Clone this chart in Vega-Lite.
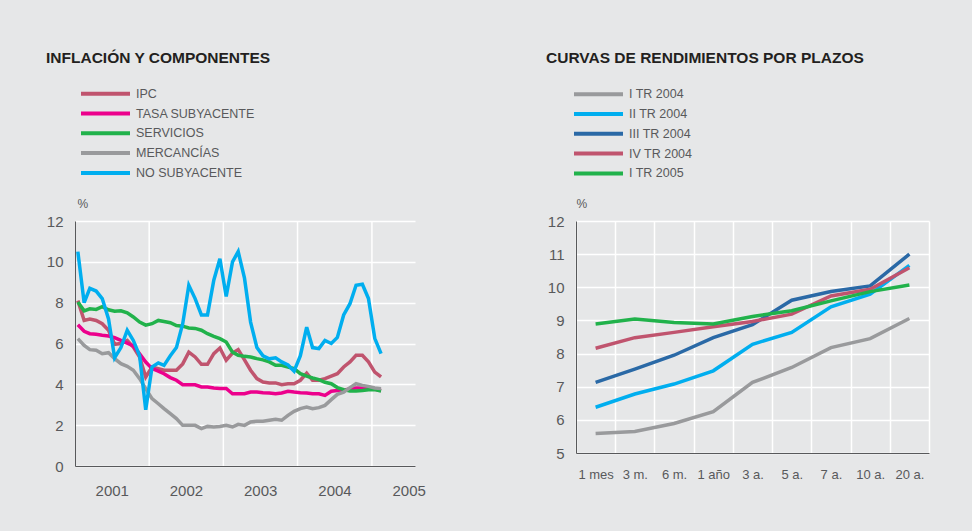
{
  "$schema": "https://vega.github.io/schema/vega-lite/v6.json",
  "background": "#E6E7E8",
  "padding": {"left": 46, "top": 50, "right": 46, "bottom": 42},
  "spacing": 120,
  "config": {
    "view": {"stroke": null},
    "font": "Liberation Sans",
    "axis": {"labelFont": "Liberation Sans", "labelColor": "#58595B", "domainColor": "#58595B", "domainWidth": 1, "ticks": false, "gridColor": "white", "gridWidth": 1.5, "gridOpacity": 1}
  },
  "datasets": {
    "infl": [
      {"fecha": "2001-01-15", "IPC": 8.1, "TASA SUBYACENTE": 6.92, "SERVICIOS": 8.03, "MERCANCÍAS": 6.24, "NO SUBYACENTE": 10.5},
      {"fecha": "2001-02-15", "IPC": 7.13, "TASA SUBYACENTE": 6.6, "SERVICIOS": 7.6, "MERCANCÍAS": 5.91, "NO SUBYACENTE": 8.0},
      {"fecha": "2001-03-15", "IPC": 7.2, "TASA SUBYACENTE": 6.48, "SERVICIOS": 7.7, "MERCANCÍAS": 5.7, "NO SUBYACENTE": 8.7},
      {"fecha": "2001-04-15", "IPC": 7.13, "TASA SUBYACENTE": 6.45, "SERVICIOS": 7.67, "MERCANCÍAS": 5.67, "NO SUBYACENTE": 8.57},
      {"fecha": "2001-05-15", "IPC": 6.97, "TASA SUBYACENTE": 6.4, "SERVICIOS": 7.8, "MERCANCÍAS": 5.5, "NO SUBYACENTE": 8.2},
      {"fecha": "2001-06-15", "IPC": 6.65, "TASA SUBYACENTE": 6.37, "SERVICIOS": 7.65, "MERCANCÍAS": 5.55, "NO SUBYACENTE": 7.2},
      {"fecha": "2001-07-15", "IPC": 5.96, "TASA SUBYACENTE": 6.29, "SERVICIOS": 7.58, "MERCANCÍAS": 5.26, "NO SUBYACENTE": 5.3},
      {"fecha": "2001-08-15", "IPC": 6.0, "TASA SUBYACENTE": 6.15, "SERVICIOS": 7.6, "MERCANCÍAS": 5.01, "NO SUBYACENTE": 5.8},
      {"fecha": "2001-09-15", "IPC": 6.15, "TASA SUBYACENTE": 6.02, "SERVICIOS": 7.5, "MERCANCÍAS": 4.88, "NO SUBYACENTE": 6.65},
      {"fecha": "2001-10-15", "IPC": 5.83, "TASA SUBYACENTE": 5.88, "SERVICIOS": 7.3, "MERCANCÍAS": 4.69, "NO SUBYACENTE": 6.15},
      {"fecha": "2001-11-15", "IPC": 5.34, "TASA SUBYACENTE": 5.5, "SERVICIOS": 7.05, "MERCANCÍAS": 4.28, "NO SUBYACENTE": 5.4},
      {"fecha": "2001-12-15", "IPC": 4.36, "TASA SUBYACENTE": 5.09, "SERVICIOS": 6.9, "MERCANCÍAS": 3.79, "NO SUBYACENTE": 2.75},
      {"fecha": "2002-01-15", "IPC": 4.85, "TASA SUBYACENTE": 4.77, "SERVICIOS": 6.97, "MERCANCÍAS": 3.3, "NO SUBYACENTE": 4.85},
      {"fecha": "2002-02-15", "IPC": 4.77, "TASA SUBYACENTE": 4.65, "SERVICIOS": 7.13, "MERCANCÍAS": 3.05, "NO SUBYACENTE": 5.05},
      {"fecha": "2002-03-15", "IPC": 4.69, "TASA SUBYACENTE": 4.52, "SERVICIOS": 7.08, "MERCANCÍAS": 2.81, "NO SUBYACENTE": 4.93},
      {"fecha": "2002-04-15", "IPC": 4.69, "TASA SUBYACENTE": 4.33, "SERVICIOS": 7.02, "MERCANCÍAS": 2.56, "NO SUBYACENTE": 5.4},
      {"fecha": "2002-05-15", "IPC": 4.69, "TASA SUBYACENTE": 4.2, "SERVICIOS": 6.88, "MERCANCÍAS": 2.32, "NO SUBYACENTE": 5.8},
      {"fecha": "2002-06-15", "IPC": 5.0, "TASA SUBYACENTE": 3.98, "SERVICIOS": 6.85, "MERCANCÍAS": 1.99, "NO SUBYACENTE": 6.97},
      {"fecha": "2002-07-15", "IPC": 5.58, "TASA SUBYACENTE": 3.98, "SERVICIOS": 6.76, "MERCANCÍAS": 1.99, "NO SUBYACENTE": 8.85},
      {"fecha": "2002-08-15", "IPC": 5.34, "TASA SUBYACENTE": 3.98, "SERVICIOS": 6.74, "MERCANCÍAS": 1.99, "NO SUBYACENTE": 8.2},
      {"fecha": "2002-09-15", "IPC": 4.98, "TASA SUBYACENTE": 3.87, "SERVICIOS": 6.65, "MERCANCÍAS": 1.83, "NO SUBYACENTE": 7.4},
      {"fecha": "2002-10-15", "IPC": 4.98, "TASA SUBYACENTE": 3.87, "SERVICIOS": 6.48, "MERCANCÍAS": 1.94, "NO SUBYACENTE": 7.4},
      {"fecha": "2002-11-15", "IPC": 5.5, "TASA SUBYACENTE": 3.82, "SERVICIOS": 6.35, "MERCANCÍAS": 1.91, "NO SUBYACENTE": 9.1},
      {"fecha": "2002-12-15", "IPC": 5.78, "TASA SUBYACENTE": 3.8, "SERVICIOS": 6.24, "MERCANCÍAS": 1.94, "NO SUBYACENTE": 10.15},
      {"fecha": "2003-01-15", "IPC": 5.18, "TASA SUBYACENTE": 3.8, "SERVICIOS": 6.07, "MERCANCÍAS": 1.99, "NO SUBYACENTE": 8.3},
      {"fecha": "2003-02-15", "IPC": 5.53, "TASA SUBYACENTE": 3.54, "SERVICIOS": 5.58, "MERCANCÍAS": 1.91, "NO SUBYACENTE": 10.0},
      {"fecha": "2003-03-15", "IPC": 5.7, "TASA SUBYACENTE": 3.54, "SERVICIOS": 5.42, "MERCANCÍAS": 2.04, "NO SUBYACENTE": 10.5},
      {"fecha": "2003-04-15", "IPC": 5.2, "TASA SUBYACENTE": 3.54, "SERVICIOS": 5.37, "MERCANCÍAS": 1.99, "NO SUBYACENTE": 9.2},
      {"fecha": "2003-05-15", "IPC": 4.69, "TASA SUBYACENTE": 3.62, "SERVICIOS": 5.34, "MERCANCÍAS": 2.16, "NO SUBYACENTE": 7.05},
      {"fecha": "2003-06-15", "IPC": 4.28, "TASA SUBYACENTE": 3.62, "SERVICIOS": 5.26, "MERCANCÍAS": 2.19, "NO SUBYACENTE": 5.8},
      {"fecha": "2003-07-15", "IPC": 4.11, "TASA SUBYACENTE": 3.59, "SERVICIOS": 5.2, "MERCANCÍAS": 2.19, "NO SUBYACENTE": 5.4},
      {"fecha": "2003-08-15", "IPC": 4.07, "TASA SUBYACENTE": 3.58, "SERVICIOS": 5.1, "MERCANCÍAS": 2.24, "NO SUBYACENTE": 5.25},
      {"fecha": "2003-09-15", "IPC": 4.07, "TASA SUBYACENTE": 3.54, "SERVICIOS": 4.93, "MERCANCÍAS": 2.29, "NO SUBYACENTE": 5.3},
      {"fecha": "2003-10-15", "IPC": 3.98, "TASA SUBYACENTE": 3.58, "SERVICIOS": 4.93, "MERCANCÍAS": 2.24, "NO SUBYACENTE": 5.1},
      {"fecha": "2003-11-15", "IPC": 4.03, "TASA SUBYACENTE": 3.66, "SERVICIOS": 4.85, "MERCANCÍAS": 2.48, "NO SUBYACENTE": 4.95},
      {"fecha": "2003-12-15", "IPC": 4.03, "TASA SUBYACENTE": 3.62, "SERVICIOS": 4.77, "MERCANCÍAS": 2.68, "NO SUBYACENTE": 4.65},
      {"fecha": "2004-01-15", "IPC": 4.2, "TASA SUBYACENTE": 3.59, "SERVICIOS": 4.52, "MERCANCÍAS": 2.81, "NO SUBYACENTE": 5.4},
      {"fecha": "2004-02-15", "IPC": 4.55, "TASA SUBYACENTE": 3.58, "SERVICIOS": 4.4, "MERCANCÍAS": 2.89, "NO SUBYACENTE": 6.8},
      {"fecha": "2004-03-15", "IPC": 4.2, "TASA SUBYACENTE": 3.54, "SERVICIOS": 4.31, "MERCANCÍAS": 2.81, "NO SUBYACENTE": 5.8},
      {"fecha": "2004-04-15", "IPC": 4.2, "TASA SUBYACENTE": 3.54, "SERVICIOS": 4.23, "MERCANCÍAS": 2.86, "NO SUBYACENTE": 5.75},
      {"fecha": "2004-05-15", "IPC": 4.28, "TASA SUBYACENTE": 3.46, "SERVICIOS": 4.1, "MERCANCÍAS": 2.97, "NO SUBYACENTE": 6.15},
      {"fecha": "2004-06-15", "IPC": 4.4, "TASA SUBYACENTE": 3.66, "SERVICIOS": 4.03, "MERCANCÍAS": 3.25, "NO SUBYACENTE": 6.0},
      {"fecha": "2004-07-15", "IPC": 4.52, "TASA SUBYACENTE": 3.7, "SERVICIOS": 3.84, "MERCANCÍAS": 3.51, "NO SUBYACENTE": 6.3},
      {"fecha": "2004-08-15", "IPC": 4.85, "TASA SUBYACENTE": 3.7, "SERVICIOS": 3.74, "MERCANCÍAS": 3.62, "NO SUBYACENTE": 7.4},
      {"fecha": "2004-09-15", "IPC": 5.1, "TASA SUBYACENTE": 3.79, "SERVICIOS": 3.67, "MERCANCÍAS": 3.84, "NO SUBYACENTE": 7.95},
      {"fecha": "2004-10-15", "IPC": 5.42, "TASA SUBYACENTE": 3.82, "SERVICIOS": 3.67, "MERCANCÍAS": 4.03, "NO SUBYACENTE": 8.85},
      {"fecha": "2004-11-15", "IPC": 5.42, "TASA SUBYACENTE": 3.82, "SERVICIOS": 3.7, "MERCANCÍAS": 3.95, "NO SUBYACENTE": 8.9},
      {"fecha": "2004-12-15", "IPC": 5.1, "TASA SUBYACENTE": 3.79, "SERVICIOS": 3.74, "MERCANCÍAS": 3.9, "NO SUBYACENTE": 8.2},
      {"fecha": "2005-01-15", "IPC": 4.6, "TASA SUBYACENTE": 3.76, "SERVICIOS": 3.74, "MERCANCÍAS": 3.82, "NO SUBYACENTE": 6.25},
      {"fecha": "2005-02-15", "IPC": 4.36, "TASA SUBYACENTE": 3.7, "SERVICIOS": 3.67, "MERCANCÍAS": 3.79, "NO SUBYACENTE": 5.5}
    ],
    "curvas": [
      {"plazo": "1 mes", "I TR 2004": 5.59, "II TR 2004": 6.38, "III TR 2004": 7.13, "IV TR 2004": 8.16, "I TR 2005": 8.89},
      {"plazo": "3 m.", "I TR 2004": 5.65, "II TR 2004": 6.78, "III TR 2004": 7.53, "IV TR 2004": 8.48, "I TR 2005": 9.04},
      {"plazo": "6 m.", "I TR 2004": 5.89, "II TR 2004": 7.08, "III TR 2004": 7.95, "IV TR 2004": 8.64, "I TR 2005": 8.94},
      {"plazo": "1 año", "I TR 2004": 6.25, "II TR 2004": 7.48, "III TR 2004": 8.48, "IV TR 2004": 8.81, "I TR 2005": 8.89},
      {"plazo": "3 a.", "I TR 2004": 7.13, "II TR 2004": 8.28, "III TR 2004": 8.87, "IV TR 2004": 8.97, "I TR 2005": 9.12},
      {"plazo": "5 a.", "I TR 2004": 7.58, "II TR 2004": 8.64, "III TR 2004": 9.61, "IV TR 2004": 9.19, "I TR 2005": 9.29},
      {"plazo": "7 a.", "I TR 2004": 8.18, "II TR 2004": 9.41, "III TR 2004": 9.87, "IV TR 2004": 9.74, "I TR 2005": 9.59},
      {"plazo": "10 a.", "I TR 2004": 8.45, "II TR 2004": 9.79, "III TR 2004": 10.04, "IV TR 2004": 9.94, "I TR 2005": 9.87},
      {"plazo": "20 a.", "I TR 2004": 9.06, "II TR 2004": 10.66, "III TR 2004": 11.0, "IV TR 2004": 10.59, "I TR 2005": 10.07}
    ]
  },
  "resolve": {"scale": {"color": "independent", "x": "independent", "y": "independent"}, "legend": {"color": "independent"}},
  "hconcat": [
    {
      "width": 340,
      "height": 245,
      "title": {"text": "INFLACIÓN Y COMPONENTES", "anchor": "start", "frame": "group", "dx": -29, "offset": 7.5, "baseline": "alphabetic", "fontSize": 15.5, "font": "Liberation Sans", "fontWeight": "bold", "color": "#231F20"},
      "encoding": {
        "x": {"field": "fecha", "type": "temporal", "scale": {"domain": ["2001-01-01", "2005-08-01"]},
          "axis": {"title": null, "values": ["2001-07-01", "2002-07-01", "2003-07-01", "2004-07-01", "2005-07-01"], "format": "%Y", "grid": false, "labelPadding": 17.5, "labelFontSize": 15, "labelFlush": false, "labelOverlap": false}}
      },
      "layer": [
        {
          "data": {"values": [{"fecha": "2002-01-01"}, {"fecha": "2003-01-01"}, {"fecha": "2004-01-01"}, {"fecha": "2005-01-01"}]},
          "mark": {"type": "rule", "color": "white", "strokeWidth": 1.5}
        },
        {
          "data": {"name": "infl"},
          "transform": [{"fold": ["IPC", "TASA SUBYACENTE", "SERVICIOS", "MERCANCÍAS", "NO SUBYACENTE"], "as": ["serie", "valor"]}],
          "mark": {"type": "line", "strokeWidth": 3.5},
          "encoding": {
            "y": {"field": "valor", "type": "quantitative", "scale": {"domain": [0, 12], "nice": false},
              "axis": {"values": [0, 2, 4, 6, 8, 10, 12], "title": "%", "titleAngle": 0, "titleX": 2, "titleY": -14, "titleAlign": "left", "titleBaseline": "alphabetic", "titleFontWeight": "normal", "titleFontSize": 12, "titleFont": "Liberation Sans", "titleColor": "#58595B", "grid": true, "labelPadding": 12, "labelFontSize": 15}},
            "color": {"field": "serie", "type": "nominal",
              "scale": {"domain": ["IPC", "TASA SUBYACENTE", "SERVICIOS", "MERCANCÍAS", "NO SUBYACENTE"], "range": ["#C0546E", "#EC008C", "#21B24B", "#999A9C", "#00AEEF"]},
              "legend": {"orient": "none", "legendX": 4, "legendY": -135.3, "title": null, "symbolType": "stroke", "symbolSize": 2401, "symbolStrokeWidth": 4, "clipHeight": 16, "rowPadding": 3.8, "labelFontSize": 12.5, "labelFont": "Liberation Sans", "labelColor": "#58595B", "labelOffset": 4}}
          }
        }
      ]
    },
    {
      "width": 353,
      "height": 232,
      "title": {"text": "CURVAS DE RENDIMIENTOS POR PLAZOS", "anchor": "start", "frame": "group", "dx": -30, "offset": 7.5, "baseline": "alphabetic", "fontSize": 15.5, "font": "Liberation Sans", "fontWeight": "bold", "color": "#231F20"},
      "data": {"name": "curvas"},
      "transform": [{"fold": ["I TR 2004", "II TR 2004", "III TR 2004", "IV TR 2004", "I TR 2005"], "as": ["serie", "valor"]}],
      "mark": {"type": "line", "strokeWidth": 3.5},
      "encoding": {
        "x": {"field": "plazo", "type": "ordinal", "sort": ["1 mes", "3 m.", "6 m.", "1 año", "3 a.", "5 a.", "7 a.", "10 a.", "20 a."],
          "scale": {"type": "band", "paddingInner": 0, "paddingOuter": 0}, "bandPosition": 0.5,
          "axis": {"title": null, "tickBand": "extent", "grid": true, "labelAngle": 0, "labelPadding": 15, "labelFontSize": 13}},
        "y": {"field": "valor", "type": "quantitative", "scale": {"domain": [5, 12], "nice": false, "zero": false},
          "axis": {"values": [5, 6, 7, 8, 9, 10, 11, 12], "title": "%", "titleAngle": 0, "titleX": 0, "titleY": -14, "titleAlign": "left", "titleBaseline": "alphabetic", "titleFontWeight": "normal", "titleFontSize": 12, "titleFont": "Liberation Sans", "titleColor": "#58595B", "grid": true, "labelPadding": 12, "labelFontSize": 15}},
        "color": {"field": "serie", "type": "nominal",
          "scale": {"domain": ["I TR 2004", "II TR 2004", "III TR 2004", "IV TR 2004", "I TR 2005"], "range": ["#999A9C", "#00AEEF", "#2A69A6", "#C0546E", "#21B24B"]},
          "legend": {"orient": "none", "legendX": -4, "legendY": -134.8, "title": null, "symbolType": "stroke", "symbolSize": 2401, "symbolStrokeWidth": 4, "clipHeight": 16, "rowPadding": 3.8, "labelFontSize": 12.5, "labelFont": "Liberation Sans", "labelColor": "#58595B", "labelOffset": 4}}
      }
    }
  ]
}
